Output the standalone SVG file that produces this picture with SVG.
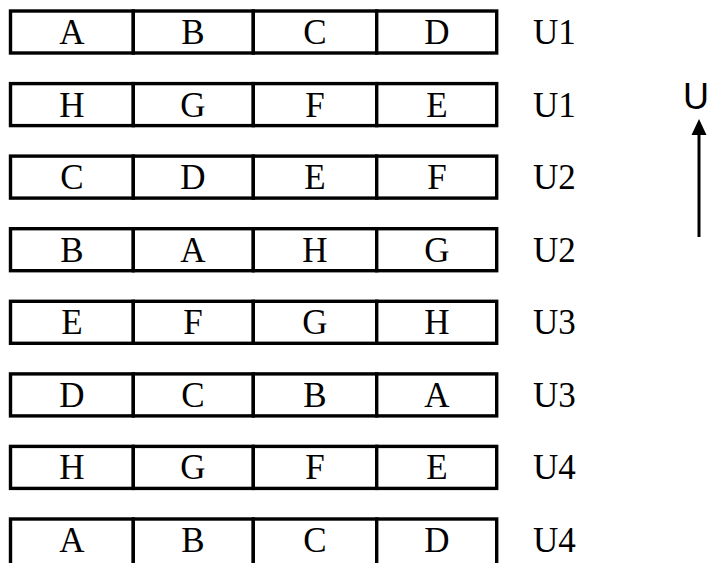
<svg xmlns="http://www.w3.org/2000/svg" width="710" height="563" viewBox="0 0 710 563">
<style>
.cell{fill:#fff;stroke:#000;stroke-width:3.4}
.t{font-family:"Liberation Serif","Times New Roman",serif;font-size:35px;fill:#000;text-anchor:middle}
.lab{font-family:"Liberation Serif","Times New Roman",serif;font-size:35px;fill:#000}
.u{font-family:"Liberation Sans",Arial,sans-serif;font-size:36px;fill:#000;text-anchor:middle}
</style>
<defs>
<marker id="ah" markerWidth="16" markerHeight="15" refX="0" refY="7.5" orient="auto" markerUnits="userSpaceOnUse" viewBox="0 0 16 15" overflow="visible">
<path d="M0,0 L16,7.5 L0,15 Z" fill="#000"/>
</marker>
<g id="row">
<rect class="cell" x="10.5" y="0" width="122.8" height="42"/>
<rect class="cell" x="133.3" y="0" width="120" height="42"/>
<rect class="cell" x="253.3" y="0" width="123.4" height="42"/>
<rect class="cell" x="376.7" y="0" width="120" height="42"/>
</g>
</defs>
<g id="r1" transform="translate(0,11)"><use href="#row"/><text class="t" x="72" y="33">A</text><text class="t" x="193" y="33">B</text><text class="t" x="315" y="33">C</text><text class="t" x="437" y="33">D</text><text class="lab" x="533" y="33">U1</text></g>
<g id="r2" transform="translate(0,83.6)"><use href="#row"/><text class="t" x="72" y="33">H</text><text class="t" x="193" y="33">G</text><text class="t" x="315" y="33">F</text><text class="t" x="437" y="33">E</text><text class="lab" x="533" y="33">U1</text></g>
<g id="r3" transform="translate(0,156.1)"><use href="#row"/><text class="t" x="72" y="33">C</text><text class="t" x="193" y="33">D</text><text class="t" x="315" y="33">E</text><text class="t" x="437" y="33">F</text><text class="lab" x="533" y="33">U2</text></g>
<g id="r4" transform="translate(0,228.7)"><use href="#row"/><text class="t" x="72" y="33">B</text><text class="t" x="193" y="33">A</text><text class="t" x="315" y="33">H</text><text class="t" x="437" y="33">G</text><text class="lab" x="533" y="33">U2</text></g>
<g id="r5" transform="translate(0,301.3)"><use href="#row"/><text class="t" x="72" y="33">E</text><text class="t" x="193" y="33">F</text><text class="t" x="315" y="33">G</text><text class="t" x="437" y="33">H</text><text class="lab" x="533" y="33">U3</text></g>
<g id="r6" transform="translate(0,373.9)"><use href="#row"/><text class="t" x="72" y="33">D</text><text class="t" x="193" y="33">C</text><text class="t" x="315" y="33">B</text><text class="t" x="437" y="33">A</text><text class="lab" x="533" y="33">U3</text></g>
<g id="r7" transform="translate(0,446.4)"><use href="#row"/><text class="t" x="72" y="33">H</text><text class="t" x="193" y="33">G</text><text class="t" x="315" y="33">F</text><text class="t" x="437" y="33">E</text><text class="lab" x="533" y="33">U4</text></g>
<g id="r8" transform="translate(0,519)">
<rect class="cell" x="10.5" y="0" width="122.8" height="50"/>
<rect class="cell" x="133.3" y="0" width="120" height="50"/>
<rect class="cell" x="253.3" y="0" width="123.4" height="50"/>
<rect class="cell" x="376.7" y="0" width="120" height="50"/>
<text class="t" x="72" y="33">A</text><text class="t" x="193" y="33">B</text><text class="t" x="315" y="33">C</text><text class="t" x="437" y="33">D</text><text class="lab" x="533" y="33">U4</text></g>
<g id="uaxis"><text class="u" x="696" y="109">U</text></g>
<g id="connectors">
<line x1="699" y1="237" x2="699" y2="135" stroke="#000" stroke-width="3" marker-end="url(#ah)"/>
</g>
</svg>
